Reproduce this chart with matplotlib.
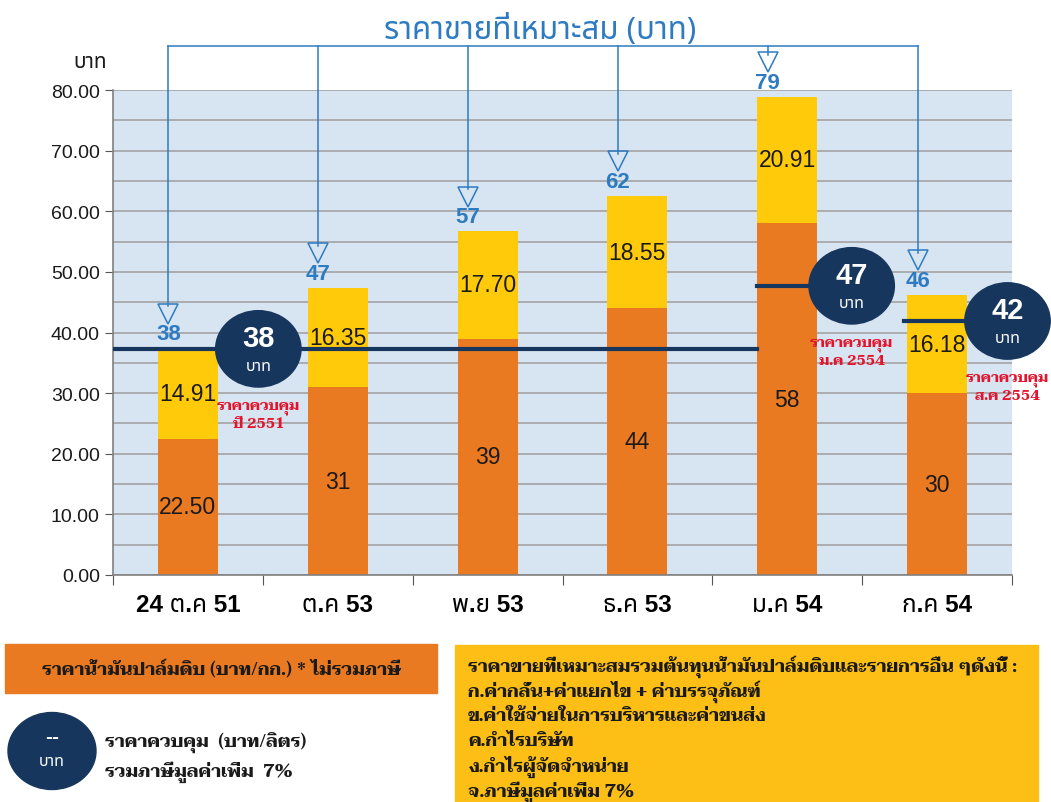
import matplotlib
matplotlib.use('Agg')
import numpy as np
import matplotlib.pyplot as plt
from matplotlib.patches import Ellipse, Rectangle
from matplotlib.ticker import MultipleLocator

# data
months = ['24 ต.ค 51', 'ต.ค 53', 'พ.ย 53', 'ธ.ค 53', 'ม.ค 54', 'ก.ค 54']
crude_palm = [22.50, 31, 39, 44, 58, 30]
crude_labels = ['22.50', '31', '39', '44', '58', '30']
other_costs = [14.91, 16.35, 17.70, 18.55, 20.91, 16.18]
fair_price = [38, 47, 57, 62, 79, 46]

# control prices
ctrl_price = [38, 47, 42]
ctrl_level = [37.3, 47.7, 41.9]
ctrl_note = ['ราคาควบคุม\nปี 2551', 'ราคาควบคุม\nม.ค 2554', 'ราคาควบคุม\nส.ค 2554']

ORANGE = '#EA7A22'
YELLOW = '#FFCA0A'
NAVY = '#17365D'
BLUE = '#2E7BC1'
RED = '#E3142C'
BG = '#D7E4F2'

SANS = ['Liberation Sans', 'Noto Sans Thai', 'DejaVu Sans']
THAI = ['Noto Sans Thai', 'DejaVu Sans']
SERIF = ['Taviraj', 'Noto Serif Thai', 'DejaVu Sans']

fig = plt.figure(figsize=(10.51, 8.03), dpi=100)
ax = fig.add_axes([113 / 1051, 1 - 576 / 803, 899 / 1051, 485 / 803])
ax.set_facecolor(BG)

x = np.arange(len(months))
w = 0.4
ax.bar(x, crude_palm, w, color=ORANGE, zorder=2)
ax.bar(x, other_costs, w, bottom=crude_palm, color=YELLOW, zorder=2)

tops = np.array(crude_palm) + np.array(other_costs)
for i in range(len(x)):
    ax.text(x[i], crude_palm[i] / 2, crude_labels[i], ha='center', va='center',
            fontsize=16.5, color='#1a1a1a', family=SANS, zorder=5)
    ax.text(x[i], crude_palm[i] + other_costs[i] / 2, '%.2f' % other_costs[i],
            ha='center', va='center', fontsize=16.5, color='#1a1a1a', family=SANS, zorder=5)
    # fair price label with triangle and bracket line
    ax.text(x[i] - 0.13, tops[i] + 2.4, str(fair_price[i]), ha='center', va='center',
            fontsize=16, fontweight='bold', color=BLUE, family=SANS, zorder=5, clip_on=False)
    ty = tops[i] + 5.7
    ax.plot(x[i] - 0.13, ty, marker='v', ms=14, mfc='none', mec=BLUE, mew=1.1,
            clip_on=False, zorder=5)
    ax.plot([x[i] - 0.13, x[i] - 0.13], [ty + 1.2, 87.3], color=BLUE, lw=1.1,
            clip_on=False, zorder=5)
ax.plot([x[0] - 0.13, x[-1] - 0.13], [87.3, 87.3], color=BLUE, lw=1.1, clip_on=False)

# control price lines and circles
ax.plot([-0.5, 3.8], [ctrl_level[0], ctrl_level[0]], color=NAVY, lw=3, zorder=4)
ax.plot([3.8, 4.45], [ctrl_level[1], ctrl_level[1]], color=NAVY, lw=3, zorder=4)
ax.plot([4.78, 5.5], [ctrl_level[2], ctrl_level[2]], color=NAVY, lw=3, zorder=4, clip_on=False)
circ_x = [0.47, 4.43, 5.47]
note_dy = [-9.3, -9.3, -9.3]
for cx, cy, p, note, dy in zip(circ_x, ctrl_level, ctrl_price, ctrl_note, note_dy):
    ax.add_patch(Ellipse((cx, cy), 0.57, 12.6, color=NAVY, zorder=6, clip_on=False))
    ax.text(cx, cy + 1.8, str(p), ha='center', va='center', fontsize=21,
            fontweight='bold', color='white', family=SANS, zorder=7, clip_on=False)
    ax.text(cx, cy - 2.8, 'บาท', ha='center', va='center', fontsize=11.5,
            fontweight='bold', color='white', family=THAI, zorder=7, clip_on=False)
    ax.text(cx, cy + dy - 1.6, note, ha='center', va='center', fontsize=10.5,
            fontweight='bold', color=RED, family=SERIF, linespacing=1.35,
            zorder=7, clip_on=False)

ax.set_xlim(-0.5, 5.5)
ax.set_ylim(0, 80)
ax.yaxis.set_major_locator(MultipleLocator(10))
ax.yaxis.set_minor_locator(MultipleLocator(5))
ax.set_yticklabels(['%.2f' % v for v in ax.get_yticks()])
ax.grid(axis='y', which='both', color='#A3A3A3', lw=1.2, zorder=1)
ax.set_axisbelow(True)
ax.tick_params(axis='y', which='major', length=6, color='#555555', labelsize=14)
ax.tick_params(axis='y', which='minor', length=0)
for lbl in ax.get_yticklabels():
    lbl.set_family(SANS)
    lbl.set_color('#1a1a1a')

ax.set_xticks(np.arange(-0.5, 6, 1))
ax.set_xticklabels([])
ax.set_xticks(x, minor=True)
ax.set_xticklabels(months, minor=True, fontsize=17.5, fontweight='bold', family=SANS)
ax.tick_params(axis='x', which='major', length=7, color='#555555')
ax.tick_params(axis='x', which='minor', length=0, pad=13)
for s in ['top', 'right']:
    ax.spines[s].set_visible(False)
for s in ['left', 'bottom']:
    ax.spines[s].set_color('#808080')
    ax.spines[s].set_linewidth(1.2)

fig.text(90 / 1051, 1 - 62 / 803, 'บาท', ha='center', va='center', fontsize=15,
         family=THAI, color='#1a1a1a')
fig.text(540 / 1051, 1 - 30 / 803, 'ราคาขายที่เหมาะสม (บาท)', ha='center', va='center',
         fontsize=22.5, color=BLUE, family=THAI)

# legend area
fig.patches.append(Rectangle((5 / 1051, 1 - 694 / 803), 432 / 1051, 49 / 803,
                             transform=fig.transFigure, color=ORANGE))
fig.text(221 / 1051, 1 - 669 / 803, 'ราคาน้ำมันปาล์มดิบ (บาท/กก.) * ไม่รวมภาษี',
         ha='center', va='center', fontsize=13, fontweight='bold', color='#1a1a1a', family=SERIF)
fig.patches.append(Ellipse((52 / 1051, 1 - 752 / 803), 88 / 1051, 77 / 803,
                           transform=fig.transFigure, color=NAVY))
fig.text(52 / 1051, 1 - 738 / 803, '--', ha='center', va='center', fontsize=15,
         fontweight='bold', color='white', family=SANS)
fig.text(52 / 1051, 1 - 762 / 803, 'บาท', ha='center', va='center', fontsize=11.5,
         fontweight='bold', color='white', family=THAI)
fig.text(105 / 1051, 1 - 742 / 803, 'ราคาควบคุม  (บาท/ลิตร)', ha='left', va='center',
         fontsize=13, fontweight='bold', color='#1a1a1a', family=SERIF)
fig.text(105 / 1051, 1 - 772 / 803, 'รวมภาษีมูลค่าเพิ่ม  7%', ha='left', va='center',
         fontsize=13, fontweight='bold', color='#1a1a1a', family=SERIF)

fig.patches.append(Rectangle((455 / 1051, 0), 583 / 1051, 1 - 646 / 803,
                             transform=fig.transFigure, color='#FDBF16'))
notes = ['ราคาขายที่เหมาะสมรวมต้นทุนน้ำมันปาล์มดิบและรายการอื่น ๆดังนี้ :',
         'ก.ค่ากลั่น+ค่าแยกไข + ค่าบรรจุภัณฑ์',
         'ข.ค่าใช้จ่ายในการบริหารและค่าขนส่ง',
         'ค.กำไรบริษัท',
         'ง.กำไรผู้จัดจำหน่าย',
         'จ.ภาษีมูลค่าเพิ่ม 7%']
for k, line in enumerate(notes):
    fig.text(468 / 1051, 1 - (667 + 25 * k) / 803, line, ha='left', va='center',
             fontsize=13, fontweight='bold', color='#1a1a1a', family=SERIF)

fig.savefig('out.png', dpi=100)
